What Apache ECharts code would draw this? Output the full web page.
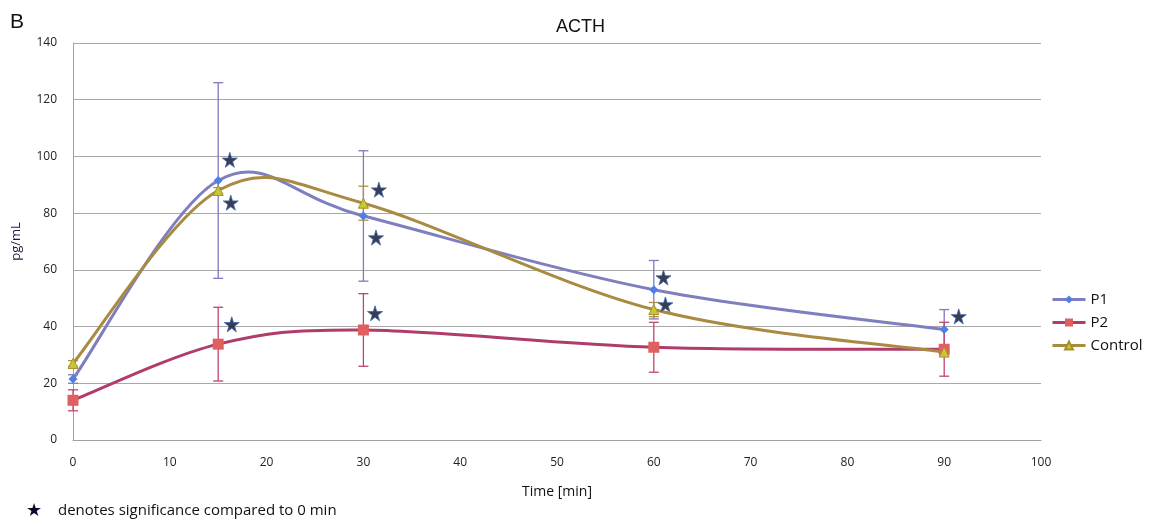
<!DOCTYPE html>
<html>
<head>
<meta charset="utf-8">
<script src="https://cdn.jsdelivr.net/npm/echarts@6/dist/echarts.min.js"></script>
<style>html,body{margin:0;padding:0;background:#fff;}#c{width:1161px;height:525px;}</style>
</head>
<body>
<div id="c"></div>
<script>
const times = [0, 15, 30, 60, 90];
const p1 = [21.5, 91.5, 79, 53, 39];
const p1Err = [1.5, 34.5, 23, 10.3, 7];
const p2 = [14, 33.8, 38.8, 32.7, 32];
const p2Err = [3.7, 13, 12.8, 8.8, 9.5];
const control = [27, 88, 83.5, 46, 31];
const controlErr = [1, 1, 6, 2.5, 1];
const starX = [16.2, 16.3, 16.4, 31.6, 31.3, 31.2, 61, 61.2, 91.5];
const starY = [98.8, 83.7, 40.8, 88.3, 71.4, 44.7, 57.3, 47.8, 43.6];

const starPath = 'path://M50,0 L61,35 L98,35 L68,57 L79,91 L50,70 L21,91 L32,57 L2,35 L39,35 Z';

const C_P1 = '#7f7fbf', C_P2 = '#b03c6c', C_CT = '#a88a40';

function errSeries(name, vals, errs, color) {
  return {
    type: 'custom', name: name, z: 1, silent: true,
    data: times.map((t, i) => [t, vals[i] - errs[i], vals[i] + errs[i]]),
    encode: {x: 0, y: [1, 2]},
    renderItem: function (params, api) {
      const lo = api.coord([api.value(0), api.value(1)]);
      const hi = api.coord([api.value(0), api.value(2)]);
      const w = 5;
      const st = {stroke: color, lineWidth: 1.3};
      return {type: 'group', children: [
        {type: 'line', shape: {x1: lo[0], y1: lo[1], x2: hi[0], y2: hi[1]}, style: st},
        {type: 'line', shape: {x1: lo[0]-w, y1: lo[1], x2: lo[0]+w, y2: lo[1]}, style: st},
        {type: 'line', shape: {x1: hi[0]-w, y1: hi[1], x2: hi[0]+w, y2: hi[1]}, style: st}
      ]};
    }
  };
}
// Excel-like smoothed curve (Catmull-Rom bezier) drawn via axis coordinates
function curveSeries(name, vals, color) {
  return {
    type: 'custom', name: name, z: 2, silent: true,
    data: times.map((t, i) => [t, vals[i]]),
    encode: {x: 0, y: 1},
    renderItem: function (params, api) {
      const i = params.dataIndex;
      if (i === 0) return null;
      const n = times.length;
      const P = k => api.coord([times[Math.max(0, Math.min(n - 1, k))], vals[Math.max(0, Math.min(n - 1, k))]]);
      const p0 = P(i - 2), p1c = P(i - 1), p2c = P(i), p3 = P(i + 1);
      const c1 = [p1c[0] + (p2c[0] - p0[0]) / 6, p1c[1] + (p2c[1] - p0[1]) / 6];
      const c2 = [p2c[0] - (p3[0] - p1c[0]) / 6, p2c[1] - (p3[1] - p1c[1]) / 6];
      return {
        type: 'bezierCurve',
        shape: {x1: p1c[0], y1: p1c[1], x2: p2c[0], y2: p2c[1], cpx1: c1[0], cpy1: c1[1], cpx2: c2[0], cpy2: c2[1]},
        style: {stroke: color, lineWidth: 3, fill: null, lineCap: 'round'}
      };
    }
  };
}
function markerSeries(name, vals, symbol, size, fill, border, bw) {
  return {
    name: name, type: 'line', z: 3,
    data: times.map((t, i) => [t, vals[i]]),
    lineStyle: {opacity: 0},
    symbol: symbol, symbolSize: size, showAllSymbol: true,
    itemStyle: {color: fill, borderColor: border, borderWidth: bw}
  };
}

const chart = echarts.init(document.getElementById('c'), null, {renderer: 'canvas'});
chart.setOption({
  animation: false,
  backgroundColor: '#fff',
  title: {
    text: 'ACTH', left: 'center', top: 13,
    textStyle: {fontFamily: 'Liberation Sans, Arial', fontSize: 18, fontWeight: 'normal', color: '#111'}
  },
  graphic: [
    {type: 'text', left: 10, top: 12, style: {text: 'B', font: '21px "Liberation Sans", Arial', fill: '#111'}},
    {type: 'text', left: 26, top: 502, style: {text: '★', font: '18px "DejaVu Sans"', fill: '#0a0a28'}},
    {type: 'text', left: 58, top: 503, style: {text: 'denotes significance compared to 0 min', font: '15px "Open Sans", sans-serif', fill: '#111'}}
  ],
  legend: {
    orient: 'vertical', left: 1046, top: 287, itemGap: 8, itemWidth: 33, itemHeight: 10,
    textStyle: {fontFamily: 'Open Sans', fontSize: 15, color: '#111'},
    data: [
      {name: 'P1', lineStyle: {opacity: 1, color: C_P1, width: 3}},
      {name: 'P2', lineStyle: {opacity: 1, color: C_P2, width: 3}},
      {name: 'Control', lineStyle: {opacity: 1, color: C_CT, width: 3}}
    ]
  },
  grid: {left: 73, right: 120, top: 43, bottom: 85},
  xAxis: {
    type: 'value', min: 0, max: 100, interval: 10,
    name: 'Time [min]', nameLocation: 'middle', nameGap: 45,
    nameTextStyle: {fontFamily: 'Open Sans', fontSize: 14, color: '#111'},
    axisLine: {lineStyle: {color: '#a0a0a0'}},
    axisTick: {show: false},
    axisLabel: {fontFamily: 'Open Sans', fontSize: 12, color: '#222', margin: 17},
    splitLine: {show: false}
  },
  yAxis: {
    type: 'value', min: 0, max: 140, interval: 20,
    name: 'pg/mL', nameLocation: 'middle', nameGap: 50, nameRotate: 90,
    nameTextStyle: {fontFamily: 'Open Sans', fontSize: 13, color: '#2a1440'},
    axisLine: {show: true, lineStyle: {color: '#a0a0a0'}},
    axisTick: {show: false},
    axisLabel: {fontFamily: 'Open Sans', fontSize: 12, color: '#222', margin: 16},
    splitLine: {lineStyle: {color: '#a8a8a8', width: 1}}
  },
  series: [
    markerSeries('P1', p1, 'diamond', 9, '#4f7fe0', '#4f7fe0', 0),
    markerSeries('P2', p2, 'rect', 11, '#e06060', '#e06060', 0),
    markerSeries('Control', control, 'triangle', 10, '#c8c830', '#a89030', 1),
    errSeries('P1', p1, p1Err, '#8078c0'),
    errSeries('P2', p2, p2Err, '#c04470'),
    errSeries('Control', control, controlErr, '#b09040'),
    curveSeries('P1', p1, C_P1),
    curveSeries('P2', p2, C_P2),
    curveSeries('Control', control, C_CT),
    {
      name: 'stars', type: 'scatter', z: 5,
      data: starX.map((x, i) => [x, starY[i]]),
      symbol: starPath, symbolSize: 15,
      itemStyle: {color: '#0a0a28', borderColor: '#3a68a8', borderWidth: 1},
      silent: true
    }
  ]
});
</script>
</body>
</html>
